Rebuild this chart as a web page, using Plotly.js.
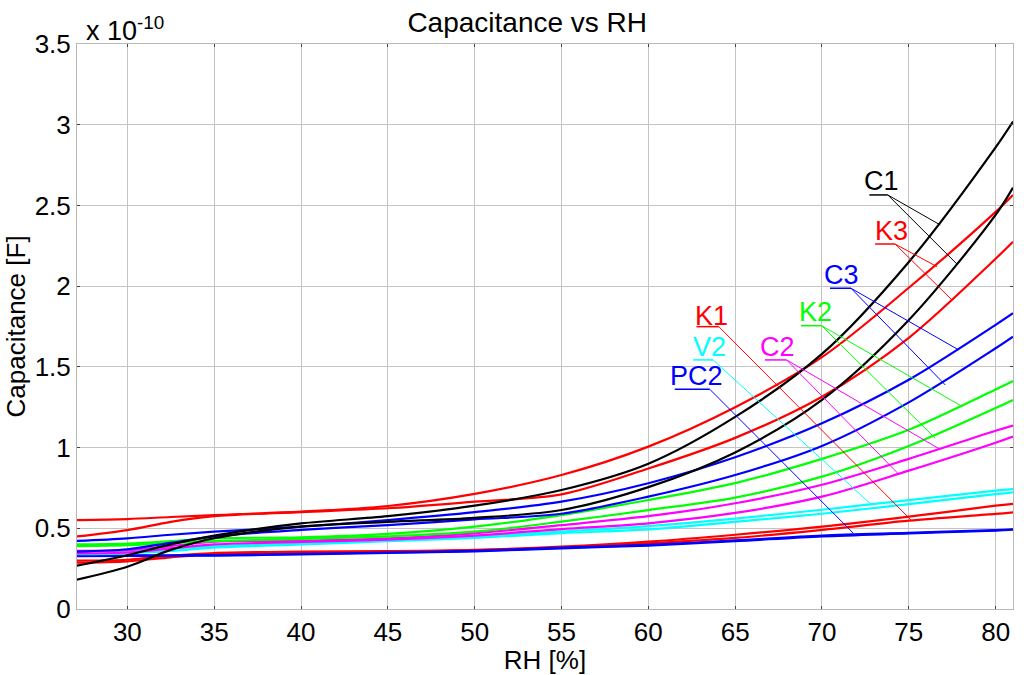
<!DOCTYPE html>
<html>
<head>
<meta charset="utf-8">
<script src="https://cdn.plot.ly/plotly-3.0.1.min.js"></script>
<style>
  html, body { margin: 0; padding: 0; background: #fff; }
  #graph { width: 1024px; height: 675px; }
</style>
</head>
<body>
<div id="graph"></div>
<script>
// RH [%] sample points
let rh = [27, 30, 32.5, 35, 40, 45, 50, 55, 60, 65, 70, 75, 80, 81];

// capacitance, in units of 1e-10 F
let c1a = [0.266, 0.333, 0.40, 0.455, 0.53, 0.575, 0.64, 0.737, 0.90, 1.19, 1.58, 2.15, 2.86, 3.02];
let c1b = [0.18, 0.262, 0.366, 0.438, 0.51, 0.54, 0.565, 0.613, 0.755, 0.97, 1.295, 1.79, 2.441, 2.61];
let k3a = [0.551, 0.557, 0.57, 0.582, 0.603, 0.638, 0.713, 0.83, 1.006, 1.25, 1.56, 1.99, 2.46, 2.565];
let k3b = [0.448, 0.489, 0.54, 0.575, 0.60, 0.624, 0.665, 0.71, 0.87, 1.06, 1.315, 1.68, 2.17, 2.275];
let c3a = [0.421, 0.438, 0.46, 0.479, 0.51, 0.551, 0.60, 0.665, 0.779, 0.94, 1.15, 1.42, 1.76, 1.832];
let c3b = [0.355, 0.37, 0.41, 0.45, 0.49, 0.52, 0.555, 0.59, 0.696, 0.83, 1.01, 1.28, 1.615, 1.687];
let k2a = [0.40, 0.405, 0.42, 0.438, 0.444, 0.465, 0.51, 0.582, 0.675, 0.78, 0.93, 1.11, 1.36, 1.413];
let k2b = [0.39, 0.395, 0.41, 0.42, 0.435, 0.45, 0.479, 0.541, 0.613, 0.69, 0.82, 1.01, 1.245, 1.295];
let c2a = [0.36, 0.365, 0.39, 0.417, 0.423, 0.438, 0.469, 0.52, 0.575, 0.655, 0.77, 0.93, 1.104, 1.136];
let c2b = [0.345, 0.35, 0.375, 0.40, 0.415, 0.43, 0.455, 0.495, 0.531, 0.595, 0.696, 0.857, 1.03, 1.068];
let v2a = [0.355, 0.36, 0.375, 0.39, 0.41, 0.43, 0.45, 0.48, 0.514, 0.56, 0.615, 0.675, 0.733, 0.743];
let v2b = [0.34, 0.345, 0.36, 0.38, 0.40, 0.42, 0.44, 0.47, 0.493, 0.54, 0.59, 0.65, 0.712, 0.723];
let k1a = [0.30, 0.305, 0.33, 0.347, 0.355, 0.358, 0.366, 0.386, 0.417, 0.46, 0.51, 0.572, 0.64, 0.651];
let k1b = [0.287, 0.295, 0.32, 0.34, 0.35, 0.355, 0.363, 0.38, 0.407, 0.44, 0.49, 0.547, 0.589, 0.599];
let pc2a = [0.333, 0.333, 0.333, 0.334, 0.341, 0.35, 0.36, 0.38, 0.397, 0.425, 0.455, 0.472, 0.489, 0.494];
let pc2b = [0.328, 0.329, 0.33, 0.331, 0.338, 0.347, 0.357, 0.376, 0.393, 0.42, 0.45, 0.468, 0.486, 0.491];

let series = [
  [k1a, "#ff0000"], [k1b, "#ff0000"],
  [pc2a, "#0000ff"], [pc2b, "#0000ff"],
  [v2a, "#00ffff"], [v2b, "#00ffff"],
  [c2a, "#ff00ff"], [c2b, "#ff00ff"],
  [k2a, "#00ff00"], [k2b, "#00ff00"],
  [c3a, "#0000ff"], [c3b, "#0000ff"],
  [k3a, "#ff0000"], [k3b, "#ff0000"],
  [c1a, "#000000"], [c1b, "#000000"],
];

// labels: text, colour, text centre, underline [x0, x1, y], leader end points
let labelText = ["C1", "K3", "C3", "K2", "K1", "V2", "C2", "PC2"];
let labelColor = ["#000000", "#ff0000", "#0000ff", "#00ff00", "#ff0000", "#00ffff", "#ff00ff", "#0000ff"];
let labelPos = [[73.44, 2.65], [74.0, 2.343], [71.14, 2.069], [69.63, 1.837],
                [63.64, 1.816], [63.54, 1.623], [67.46, 1.623], [62.77, 1.445]];
let underline = [[72.73, 73.79, 2.565], [73.06, 74.21, 2.261], [70.46, 71.67, 1.987], [68.79, 69.98, 1.755],
                 [62.77, 64.06, 1.749], [62.58, 63.73, 1.543], [66.71, 67.96, 1.543], [61.52, 63.54, 1.361]];
let leaders = [
  [[76.81, 2.379], [77.77, 2.137]],
  [[76.62, 2.121], [77.48, 1.915]],
  [[77.87, 1.605], [77.10, 1.388]],
  [[78.02, 1.258], [76.52, 1.058]],
  [[75.17, 0.547]],
  [[72.87, 0.644]],
  [[76.81, 0.989], [74.41, 0.836]],
  [[71.81, 0.469]],
];

let font = "Arial, 'Liberation Sans', sans-serif";

let traces = [];
for (let s of series) {
  traces.push({
    x: rh,
    y: s[0],
    type: "scatter",
    mode: "lines",
    line: { color: s[1], width: 2.2, shape: "spline", smoothing: 0.9 },
    hoverinfo: "skip",
  });
}

let shapes = [];
let annotations = [];
for (let i = 0; i < labelText.length; i++) {
  let u = underline[i];
  shapes.push({
    type: "line", xref: "x", yref: "y",
    x0: u[0], x1: u[1], y0: u[2], y1: u[2],
    line: { color: labelColor[i], width: 1.5 },
  });
  for (let p of leaders[i]) {
    shapes.push({
      type: "line", xref: "x", yref: "y",
      x0: u[1], y0: u[2], x1: p[0], y1: p[1],
      line: { color: labelColor[i], width: 1 },
    });
  }
  annotations.push({
    x: labelPos[i][0], y: labelPos[i][1], xref: "x", yref: "y",
    text: labelText[i], showarrow: false,
    font: { family: font, size: 27, color: labelColor[i] },
    xanchor: "center", yanchor: "middle",
  });
}
// exponent label, MATLAB style
annotations.push({
  x: 0.008, y: 1, xref: "paper", yref: "paper",
  xanchor: "left", yanchor: "bottom", yshift: -4,
  text: "x 10<sup>-10</sup>", showarrow: false,
  font: { family: font, size: 27, color: "#000" },
});
// y axis title, placed like the original
annotations.push({
  x: -0.0652, y: 0.5, xref: "paper", yref: "paper",
  xanchor: "center", yanchor: "middle", textangle: -90,
  text: "Capacitance [F]", showarrow: false,
  font: { family: font, size: 26, color: "#000" },
});

let layout = {
  width: 1024,
  height: 675,
  paper_bgcolor: "#fff",
  plot_bgcolor: "#fff",
  margin: { l: 77, r: 11, t: 44, b: 66 },
  showlegend: false,
  font: { family: font, size: 26, color: "#000" },
  title: {
    text: "Capacitance vs RH",
    font: { family: font, size: 28, color: "#000" },
    xref: "paper", x: 0.481, xanchor: "center",
    yref: "container", y: 0.967, yanchor: "middle",
  },
  xaxis: {
    range: [27.1, 81],
    tick0: 30,
    dtick: 5,
    showgrid: true,
    gridcolor: "#c4c4c4",
    gridwidth: 1,
    zeroline: false,
    showline: true,
    mirror: "ticks",
    linecolor: "#b8b8b8",
    linewidth: 1,
    ticks: "inside",
    ticklen: 3,
    tickcolor: "#444",
    tickfont: { family: font, size: 26 },
    title: { text: "RH [%]", font: { family: font, size: 26 }, standoff: 7 },
    fixedrange: true,
  },
  yaxis: {
    range: [0, 3.5],
    dtick: 0.5,
    showgrid: true,
    gridcolor: "#c4c4c4",
    gridwidth: 1,
    zeroline: false,
    showline: true,
    mirror: "ticks",
    linecolor: "#b8b8b8",
    linewidth: 1,
    ticks: "inside",
    ticklen: 3,
    tickcolor: "#444",
    tickfont: { family: font, size: 26 },
    fixedrange: true,
  },
  shapes: shapes,
  annotations: annotations,
};

Plotly.newPlot("graph", traces, layout, { displayModeBar: false, staticPlot: true });
</script>
</body>
</html>
